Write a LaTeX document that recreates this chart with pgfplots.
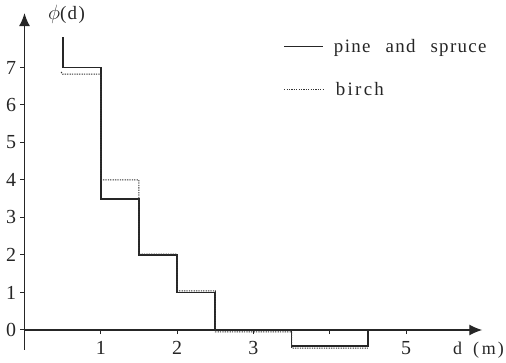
\documentclass[border=0pt]{standalone}
\usepackage{fontspec}
\setmainfont{Liberation Serif}
\usepackage{pgfplots}
\pgfplotsset{compat=1.18}
\usetikzlibrary{arrows.meta}
\newfontfamily\spaced[LetterSpace=7]{Liberation Serif}
\newfontfamily\spacedB[LetterSpace=12]{Liberation Serif}
\begin{document}
\begin{tikzpicture}
\path[use as bounding box] (-24.5bp,-33bp) rectangle (481.5bp,330bp);
\begin{axis}[
  anchor=origin, at={(0,0)},
  x=76.3bp, y=37.5bp,
  xmin=0, xmax=6.0, ymin=-0.53, ymax=8.45,
  axis lines=middle,
  axis line style={line width=1.3bp, draw=black!85, -{Latex[length=13bp,width=11bp]}},
  hide obscured x ticks=false, hide obscured y ticks=false,
  xtick={1,2,3,4,5}, xticklabels={1,2,3,,5},
  ytick={0,1,2,3,4,5,6,7},
  tick align=outside, major tick length=4bp,
  tick style={line width=1bp, black!85},
  /pgf/number format/assume math mode=true,
  ticklabel style={font=\fontsize{20}{22}\selectfont, text=black!85},
  xticklabel style={yshift=-4bp},
  yticklabel style={xshift=-1bp},
  clip=false,
  xlabel={\spaced d\hspace{11bp}(\hspace{3bp}m\hspace{2bp})},
  xlabel style={at={(axis cs:5.95,0)}, anchor=north, yshift=-9bp, font=\fontsize{18}{22}\selectfont, text=black!85},
  ylabel={\fontsize{22}{22}\selectfont$\phi$\fontsize{19}{22}\selectfont\spaced(d)},
  ylabel style={at={(axis cs:0.55,8.42)}, anchor=center, rotate=0, text=black!85},
  legend style={at={(axis cs:3.35,7.87)}, anchor=north west, draw=none, fill=none,
    font=\fontsize{19}{22}\selectfont, row sep=25bp, text=black!85,
    cells={anchor=west}},
  legend image code/.code={\draw[#1] (0bp,0bp) -- (39bp,0bp);},
]
\addplot[line width=1.7bp, black!85] coordinates {
 (0.5,7.8) (0.5,7.0) (1,7.0) (1,3.5) (1.5,3.5) (1.5,2.0) (2,2.0) (2,1.0)
 (2.5,1.0) (2.5,0) (3.5,0) (3.5,-0.43) (4.5,-0.43) (4.5,0)
};
\addlegendentry{\hspace{8bp}\spaced pine\hspace{15bp}and\hspace{15bp}spruce}
\addplot[line width=1bp, black!80, dash pattern=on 1.3bp off 1.1bp] coordinates {
 (0.48,6.88) (0.5,6.82) (1,6.82) (1,4.0) (1.5,4.0) (1.5,2.02) (2,2.02) (2,1.04)
 (2.5,1.04) (2.5,-0.05) (3.5,-0.05) (3.5,-0.48) (4.5,-0.48)
};
\addlegendentry{\hspace{10bp}\spacedB birch}
\end{axis}
\end{tikzpicture}
\end{document}
